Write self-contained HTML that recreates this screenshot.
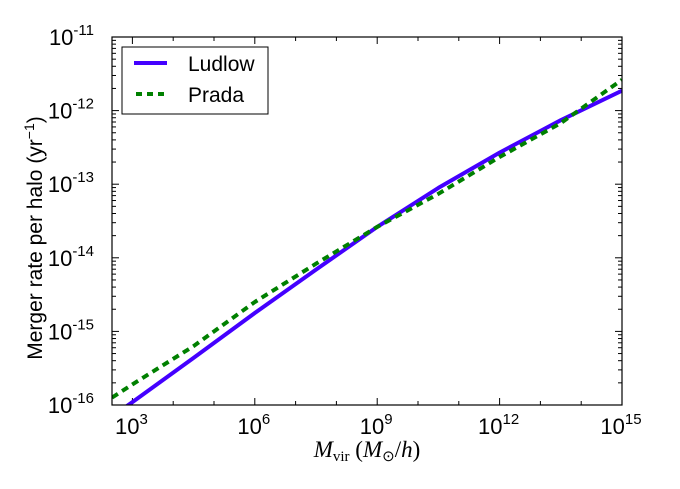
<!DOCTYPE html>
<html><head><meta charset="utf-8"><style>
body{margin:0;background:#fff;}
svg{display:block;font-family:"Liberation Sans",sans-serif;}
</style></head><body>
<svg id="chart" width="680" height="489">
<g id="ticks"></g>
<g id="series"></g>
<rect x="112" y="37" width="510" height="368" fill="none" stroke="#000" stroke-width="1.2"/>
<g id="labels"></g>
<text x="0" y="0" transform="translate(42,238) rotate(-90)" text-anchor="middle" font-size="21">Merger rate per halo (yr<tspan dy="-8" font-size="14">−1</tspan><tspan dy="8">)</tspan></text>
<text x="367" y="457" text-anchor="middle" font-size="23" font-family="'Liberation Serif',serif"><tspan font-style="italic">M</tspan><tspan font-size="15" dy="4">vir</tspan><tspan dy="-4"> (</tspan><tspan font-style="italic">M</tspan><tspan font-size="15" dy="4">⊙</tspan><tspan dy="-4">/</tspan><tspan font-style="italic">h</tspan>)</text>
<g>
<rect x="122" y="47" width="146" height="67" fill="#fff" stroke="#000" stroke-width="1"/>
<line x1="134" y1="63" x2="167" y2="63" stroke="#4400ff" stroke-width="4"/>
<text x="188" y="71" font-size="21">Ludlow</text>
<line x1="136" y1="94" x2="167" y2="94" stroke="#008000" stroke-width="4" stroke-dasharray="6,5"/>
<text x="188" y="102" font-size="21">Prada</text>
</g>
</svg>
<script>
const logMass = [2.5, 3, 4.5, 6, 7.5, 9, 10.5, 12, 13.5, 15];
const ludlowLogRate = [-16.16, -15.96, -15.36, -14.75, -14.16, -13.58, -13.05, -12.57, -12.13, -11.73];
const pradaLogRate = [-15.9, -15.72, -15.2, -14.6, -14.08, -13.58, -13.13, -12.63, -12.17, -11.58];
const xTickExps = [3, 6, 9, 12, 15];
const yTickExps = [-11, -12, -13, -14, -15, -16];

const X0=112,X1=622,Y0=37,Y1=405, xmin=2.5,xmax=15,ymin=-16,ymax=-11;
const sx=v=>X0+(v-xmin)/(xmax-xmin)*(X1-X0);
const sy=v=>Y1-(v-ymin)/(ymax-ymin)*(Y1-Y0);
const NS="http://www.w3.org/2000/svg";
function mk(tag,attrs,parent){const e=document.createElementNS(NS,tag);for(const k in attrs)e.setAttribute(k,attrs[k]);parent.appendChild(e);return e;}
const ticks=document.getElementById('ticks'),labels=document.getElementById('labels'),series=document.getElementById('series');

for(let d=3;d<=15;d++){
  const major=d%3===0, L=major?7:4, x=sx(d);
  let t=mk('line',{x1:x,x2:x,y1:Y1,y2:Y1-L,stroke:'#000','stroke-width':1},ticks);
  
  
  t=mk('line',{x1:x,x2:x,y1:Y0,y2:Y0+L,stroke:'#000','stroke-width':1},ticks);
  
  
}
xTickExps.forEach(e=>{
  const t=mk('text',{x:sx(e)-1,y:434,'text-anchor':'middle','font-size':22},labels);
  
  
  t.innerHTML='10<tspan dy="-10" font-size="15">'+e+'</tspan>';
});
for(let d=-16;d<=-11;d++){
  for(let m=1;m<=9;m++){
    const v=d+Math.log10(m); if(v>ymax+1e-9)break;
    const L=m===1?7:4, y=sy(v);
    let t=mk('line',{x1:X0,x2:X0+L,y1:y,y2:y,stroke:'#000','stroke-width':1},ticks);
    
    
    t=mk('line',{x1:X1,x2:X1-L,y1:y,y2:y,stroke:'#000','stroke-width':1},ticks);
    
    
  }
}
yTickExps.forEach(e=>{
  const t=mk('text',{x:94,y:sy(e)+8,'text-anchor':'end','font-size':22},labels);
  
  
  t.innerHTML='10<tspan dy="-10" font-size="15">'+e+'</tspan>';
});
const defs=mk('defs',{},series);
const cp=mk('clipPath',{id:'clip'},defs);
mk('rect',{x:X0,y:Y0,width:X1-X0,height:Y1-Y0},cp);
function path(ys){return logMass.map((x,i)=>(i?'L':'M')+sx(x).toFixed(1)+','+sy(ys[i]).toFixed(1)).join(' ');}
let p=mk('path',{d:path(ludlowLogRate),fill:'none',stroke:'#4400ff','stroke-width':4,'stroke-linejoin':'round','clip-path':'url(#clip)'},series);


p=mk('path',{d:path(pradaLogRate),fill:'none',stroke:'#008000','stroke-width':4,'stroke-dasharray':'7,5','clip-path':'url(#clip)'},series);


</script>
</body></html>
